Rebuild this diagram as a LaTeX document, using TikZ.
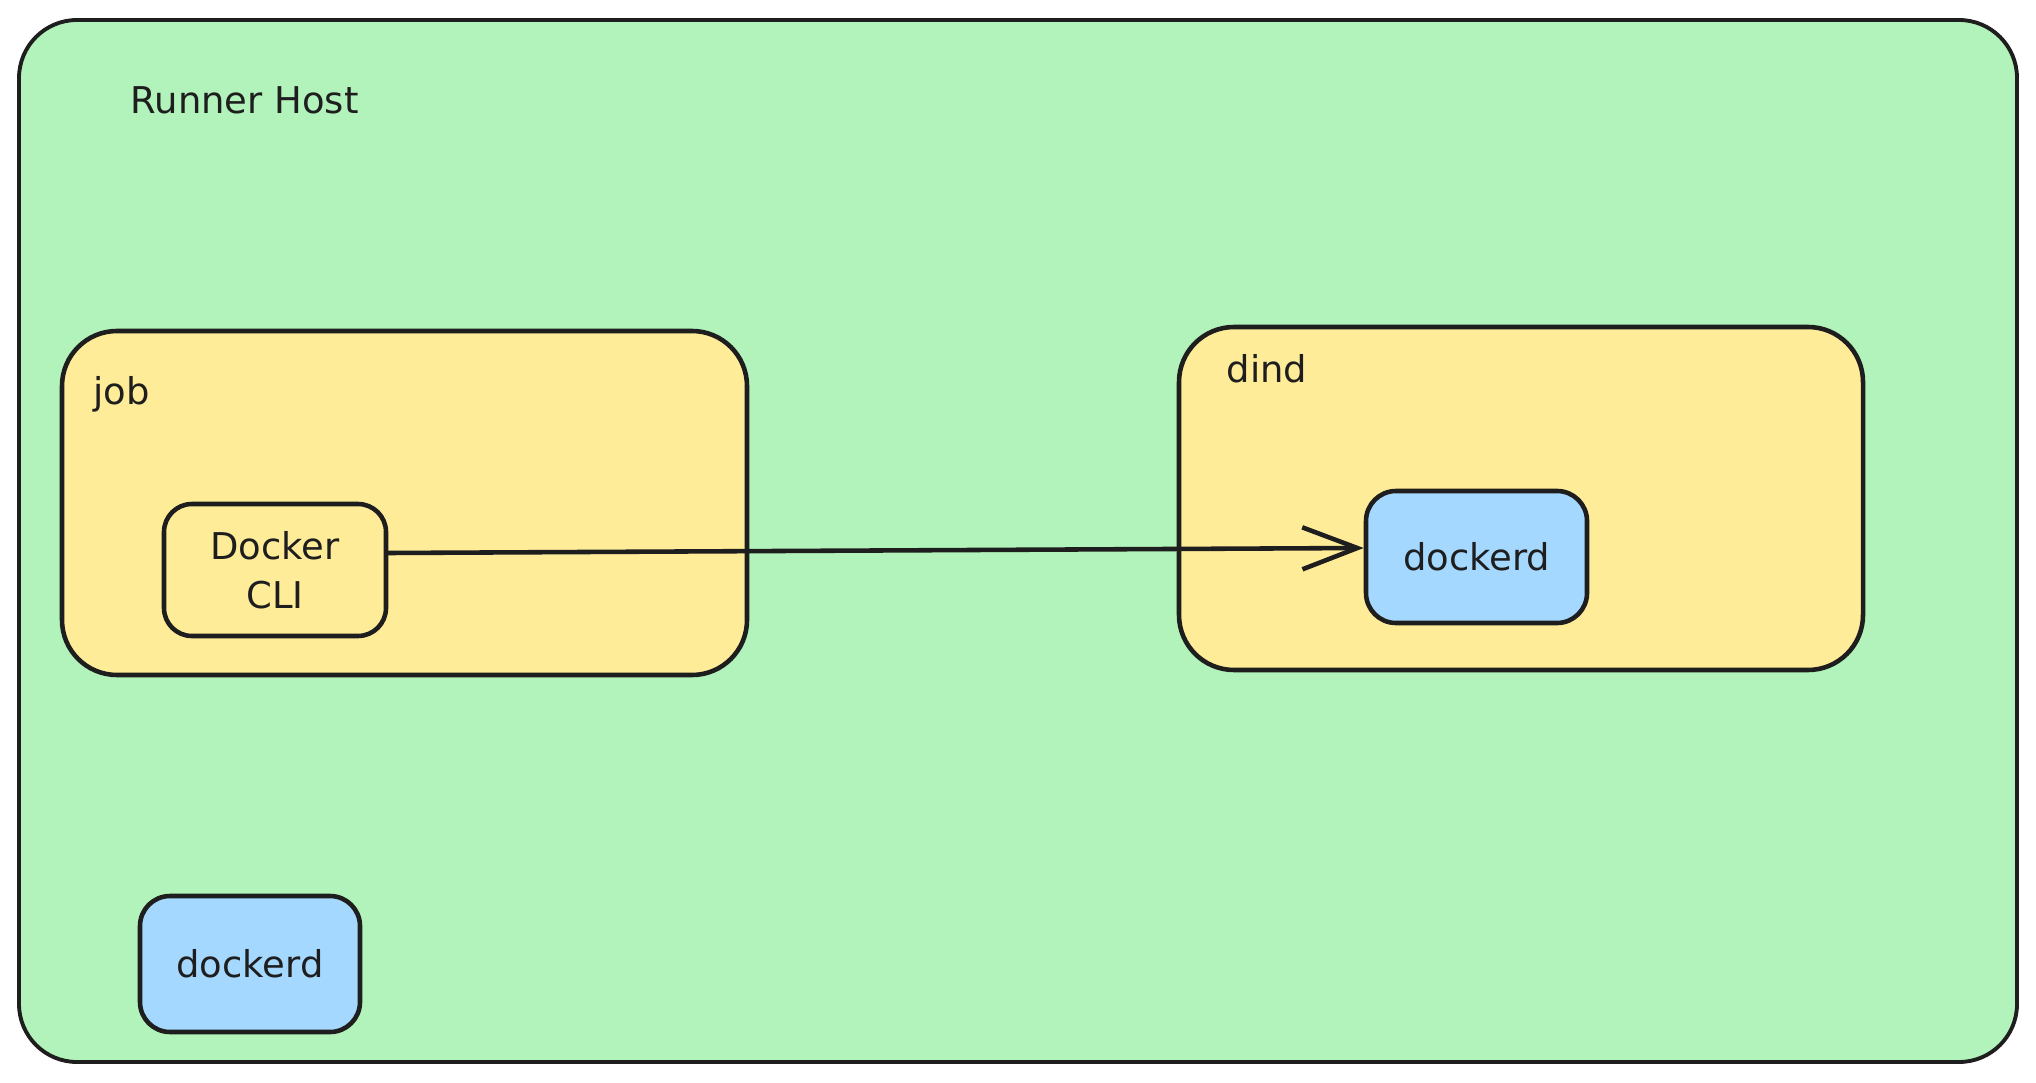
\documentclass[tikz,border=0pt]{standalone}
\usepackage{fontspec}
\setmainfont{DejaVu Sans}
\usetikzlibrary{arrows.meta}
\usetikzlibrary{positioning}
\definecolor{hostgreen}{HTML}{B2F2BB}
\definecolor{podyellow}{HTML}{FFEC99}
\definecolor{daemonblue}{HTML}{A5D8FF}
\definecolor{inkblack}{HTML}{1E1E1E}
\tikzstyle{inkline}=[draw=inkblack,line width=1.3pt]
\tikzstyle{hostbox}=[inkline,line width=1.1pt,fill=hostgreen,rounded corners=5.8mm,inner sep=0pt]
\tikzstyle{podbox}=[inkline,fill=podyellow,rounded corners=5.5mm,inner sep=0pt]
\tikzstyle{clibox}=[inkline,fill=podyellow,rounded corners=2.8mm,align=center,inner sep=0pt]
\tikzstyle{daemonbox}=[inkline,fill=daemonblue,rounded corners=3mm,inner sep=0pt]
\tikzstyle{boxtitle}=[anchor=base west,inner sep=0pt]

\begin{document}
\begin{tikzpicture}[font=\fontsize{10.5}{14}\selectfont,text=inkblack]
  \useasboundingbox (0,0) rectangle (20.36,10.82);
  % runner host
  \node[hostbox,minimum width=19.98cm,minimum height=10.42cm] (host) at (10.18,5.41) {};
  \node[boxtitle] (hosttitle) at (1.30,9.68) {Runner Host};
  % job container
  \node[podbox,minimum width=6.85cm,minimum height=3.44cm] (job) at (4.045,5.79) {};
  \node[boxtitle] (jobtitle) at (0.93,6.77) {job};
  \node[clibox,minimum width=2.22cm,minimum height=1.32cm] (cli) at (2.75,5.12) {Docker\\CLI};
  % dind container
  \node[podbox,minimum width=6.84cm,minimum height=3.43cm] (dind) at (15.21,5.835) {};
  \node[boxtitle] (dindtitle) at (12.26,6.99) {dind};
  \node[daemonbox,minimum width=2.21cm,minimum height=1.32cm] (dinddaemon) at (14.765,5.25) {dockerd};
  % host daemon
  \node[daemonbox,minimum width=2.2cm,minimum height=1.36cm] (hostdaemon) at (2.50,1.18) {dockerd};
  \draw[inkline,line cap=round,-{Straight Barb[length=5.5mm,width=4.2mm]}] ([yshift=1.7mm]cli.east) -- ([yshift=0.9mm]dinddaemon.west);
\end{tikzpicture}
\end{document}
